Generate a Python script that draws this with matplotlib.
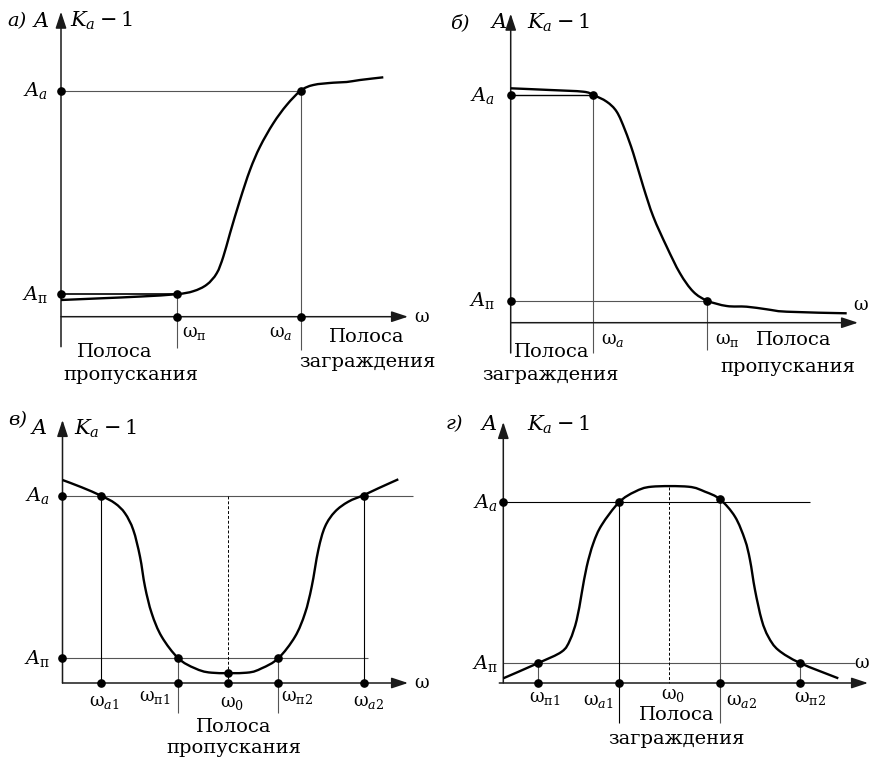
import matplotlib
matplotlib.use('Agg')
import matplotlib.pyplot as plt
from matplotlib.path import Path
from matplotlib.patches import PathPatch

plt.rcParams['font.family'] = ['DejaVu Serif']
plt.rcParams['mathtext.fontset'] = 'custom'
plt.rcParams['mathtext.rm'] = 'DejaVu Serif'
plt.rcParams['mathtext.it'] = 'DejaVu Serif:italic'
plt.rcParams['mathtext.bf'] = 'DejaVu Serif:bold'

# ---------------- data (schematic units) ----------------
# а) high-pass-like attenuation characteristic
a_curve_w = [0, 40, 80, 115.7, 132.3, 145.7, 155.7, 162.3, 169, 179, 189, 199, 212.3,
             225.7, 239.7, 252.3, 272.3, 285.7, 299, 322.3]
a_curve_A = [16.7, 18.4, 20.2, 22.5, 25.5, 32, 43.4, 60, 83.4, 116.7, 146.7, 170, 193.4,
             211.7, 226, 231.7, 234, 234.7, 236.7, 239.4]
a_A_pass, a_A_att = 22.5, 226
a_w_pass, a_w_att = 115.7, 239.7

# б) low-pass-like
b_curve_w = [0, 39.3, 72.6, 82.6, 96, 106, 114.3, 122.6, 132.6, 142.6, 156, 169.3, 182.6,
             196.6, 216, 236, 256, 276, 336]
b_curve_A = [234.4, 232.7, 231, 227.7, 221, 211, 192.7, 169.4, 136, 106, 76, 49.4, 31,
             22, 16.7, 16, 13.4, 11, 9.4]
b_A_pass, b_A_att = 22, 227.7
b_w_att, b_w_pass = 82.6, 196.6

# в) band-pass
c_curve_w = [0, 19.2, 38.5, 52.5, 62.5, 70.8, 77.5, 82.5, 89.2, 99.2, 115.8, 132.5, 149.2,
             184.2, 199.2, 215.8, 232.5, 242.5, 249.2, 255.8, 262.5, 272.5, 285.8, 301.5,
             315.8, 335.8]
c_curve_A = [203, 195.7, 187.3, 179.7, 169.7, 153, 126.3, 96.3, 69.7, 46.3, 24.7, 14.7, 10.3,
             10.3, 14.7, 24.7, 46.3, 69.7, 96.3, 133, 156.3, 171.3, 181.3, 188, 194.7, 203.7]
c_A_pass, c_A_att = 24.7, 187.3
c_w = [38.5, 115.8, 165.5, 215.8, 301.5]   # ωa1, ωп1, ω0, ωп2, ωa2
c_A_min = 10.3

# г) band-stop
d_curve_w = [0, 35, 58.4, 66.7, 73.4, 78.4, 83.4, 90, 98.4, 115.7, 131.7, 148.4, 185,
             201.7, 216.7, 231.7, 241.7, 246.7, 251.7, 258.4, 265, 275, 296.7, 335]
d_curve_A = [4.7, 20, 31.3, 43, 63, 89.7, 116.3, 139.7, 158, 180.7, 191.3, 196.3, 196.3,
             191.3, 183.7, 166.3, 143, 123, 93, 63, 46.3, 33, 20, 4.7]
d_A_pass, d_A_att = 20, 180.7
d_w = [35, 115.7, 165.7, 216.7, 296.7]     # ωп1, ωa1, ω0, ωa2, ωп2
d_A_max = 196.3
d_A_a2 = 183.7

# ---------------- drawing helpers ----------------
W, H = 870, 760
fig = plt.figure(figsize=(8.7, 7.6), dpi=100)

AX_C = '#1a1a1a'
GUIDE_C = '#555555'
CURVE_LW = 1.7
GUIDE_LW = 0.8
FS_TXT = 14
FS_W = 13
FS_A = 14
FS_HEAD = 15


def make_ax(box, origin):
    l, t, r, b = box
    ox, oy = origin
    ax = fig.add_axes([l / W, 1 - b / H, (r - l) / W, (b - t) / H])
    ax.set_xlim(l - ox, r - ox)
    ax.set_ylim(oy - b, oy - t)
    ax.axis('off')
    return ax


def arrow(ax, start, end):
    ax.annotate('', xy=end, xytext=start,
                arrowprops=dict(arrowstyle='-|>,head_length=1.0,head_width=0.33',
                                color=AX_C, lw=1.1, shrinkA=0, shrinkB=0,
                                mutation_scale=10), annotation_clip=False)


def guide(ax, xs, ys, color=GUIDE_C, lw=GUIDE_LW, ls='-'):
    ax.plot(xs, ys, color=color, lw=lw, ls=ls, clip_on=False, solid_capstyle='butt')


def dots(ax, xs, ys):
    ax.plot(xs, ys, 'o', color='black', ms=5.2, clip_on=False, zorder=5)


def curve(ax, xs, ys):
    # smooth drawing through every read point (Catmull-Rom as cubic Bezier segments)
    pts = list(zip(xs, ys))
    n = len(pts)
    verts = [pts[0]]
    codes = [Path.MOVETO]
    for i in range(n - 1):
        p0 = pts[i - 1] if i > 0 else pts[i]
        p1 = pts[i]
        p2 = pts[i + 1]
        p3 = pts[i + 2] if i + 2 < n else pts[i + 1]
        c1 = (p1[0] + (p2[0] - p0[0]) / 6, p1[1] + (p2[1] - p0[1]) / 6)
        c2 = (p2[0] - (p3[0] - p1[0]) / 6, p2[1] - (p3[1] - p1[1]) / 6)
        verts += [c1, c2, p2]
        codes += [Path.CURVE4] * 3
    patch = PathPatch(Path(verts, codes), fill=False, edgecolor='black', lw=CURVE_LW,
                      capstyle='butt', joinstyle='round', zorder=4, clip_on=False)
    ax.add_patch(patch)


def header(ax, letter, xl, xa, xk, y, yk=None):
    if yk is None:
        yk = y
    ax.text(xl, y, letter, fontsize=FS_HEAD - 1, fontstyle='italic', ha='left', va='center')
    ax.text(xa, yk, '$A$', fontsize=FS_HEAD, ha='left', va='center')
    ax.text(xk, yk, r'$K_a - 1$', fontsize=FS_HEAD, ha='left', va='center')


def wl(ax, x, y, sub, ha='center'):
    ax.text(x, y, r'$\mathrm{ω}_{%s}$' % sub, fontsize=FS_W, ha=ha, va='center')


def al(ax, x, y, sub):
    ax.text(x, y, r'$A_{%s}$' % sub, fontsize=FS_A, ha='right', va='center')


def txt(ax, x, y, s):
    ax.text(x, y, s, fontsize=FS_TXT, ha='center', va='center')


# ---------------- panel а ----------------
ax = make_ax((0, 0, 435, 380), (61, 316.7))
arrow(ax, (0, -30), (0, 305))
arrow(ax, (0, 0), (347, 0))
guide(ax, [0, a_w_att], [a_A_att, a_A_att])
guide(ax, [0, a_w_pass], [a_A_pass, a_A_pass], color='black', lw=1.2)
guide(ax, [a_w_pass, a_w_pass], [a_A_pass, -31])
guide(ax, [a_w_att, a_w_att], [a_A_att, -33])
curve(ax, a_curve_w, a_curve_A)
dots(ax, [0, 0, a_w_pass, a_w_pass, a_w_att, a_w_att],
     [a_A_att, a_A_pass, a_A_pass, 0, a_A_att, 0])
header(ax, 'а)', -54, -29, 9, 295.5)
al(ax, -13, a_A_att, 'a')
al(ax, -13, a_A_pass, r'\mathrm{п}')
wl(ax, a_w_pass + 5, -16.5, r'\mathrm{п}', ha='left')
wl(ax, a_w_att - 8, -16.5, 'a', ha='right')
ax.text(361, 0, r'$\mathrm{ω}$', fontsize=FS_W, ha='center', va='center')
txt(ax, 54, -35, 'Полоса')
txt(ax, 70, -58, 'пропускания')
txt(ax, 306, -20, 'Полоса')
txt(ax, 306, -45, 'заграждения')

# ---------------- panel б ----------------
ax = make_ax((435, 0, 870, 380), (510.7, 322.7))
arrow(ax, (0, -30.3), (0, 309))
arrow(ax, (0, 0), (347.3, 0))
guide(ax, [0, b_w_att], [b_A_att, b_A_att], color='black', lw=1.0)
guide(ax, [0, b_w_pass], [b_A_pass, b_A_pass])
guide(ax, [b_w_att, b_w_att], [b_A_att, -30.3])
guide(ax, [b_w_pass, b_w_pass], [b_A_pass, -27.3])
curve(ax, b_curve_w, b_curve_A)
dots(ax, [0, 0, b_w_att, b_w_pass], [b_A_att, b_A_pass, b_A_att, b_A_pass])
header(ax, 'б)', -60.5, -21, 16, 300)
al(ax, -15.5, b_A_att, 'a')
al(ax, -15.5, b_A_pass, r'\mathrm{п}')
wl(ax, b_w_att + 8, -17, 'a', ha='left')
wl(ax, b_w_pass + 8, -17, r'\mathrm{п}', ha='left')
ax.text(350.5, 17.5, r'$\mathrm{ω}$', fontsize=FS_W, ha='center', va='center')
txt(ax, 283, -17, 'Полоса')
txt(ax, 277, -44, 'пропускания')
txt(ax, 41, -29, 'Полоса')
txt(ax, 40, -52, 'заграждения')

# ---------------- panel в ----------------
ax = make_ax((0, 380, 435, 760), (62.5, 683))
arrow(ax, (0, 0), (0, 263))
arrow(ax, (0, 0), (345.5, 0))
wa1, wp1, w0, wp2, wa2 = c_w
guide(ax, [0, 350.5], [c_A_att, c_A_att])
guide(ax, [0, 305.5], [c_A_pass, c_A_pass])
guide(ax, [wa1, wa1], [c_A_att, 0], color='black')
guide(ax, [wa2, wa2], [c_A_att, 0], color='black')
guide(ax, [wp1, wp1], [c_A_pass, -30])
guide(ax, [wp2, wp2], [c_A_pass, -30])
guide(ax, [w0, w0], [c_A_att, 0], color='black', lw=0.7, ls=(0, (3, 2)))
curve(ax, c_curve_w, c_curve_A)
dots(ax, [0, 0, wa1, wa1, wp1, wp1, w0, w0, wp2, wp2, wa2, wa2],
     [c_A_att, c_A_pass, c_A_att, 0, c_A_pass, 0, c_A_min, 0, c_A_pass, 0, c_A_att, 0])
header(ax, 'в)', -54.5, -32, 12, 263, yk=254)
al(ax, -12.5, c_A_att, 'a')
al(ax, -12.5, c_A_pass, r'\mathrm{п}')
wl(ax, wa1 + 3, -19, 'a1')
wl(ax, wp1 - 8, -14, r'\mathrm{п1}', ha='right')
wl(ax, w0 + 4, -20, '0')
wl(ax, wp2 + 3, -14, r'\mathrm{п2}', ha='left')
wl(ax, wa2 + 5, -19, 'a2')
ax.text(359, 0, r'$\mathrm{ω}$', fontsize=FS_W, ha='center', va='center')
txt(ax, 171, -44, 'Полоса')
txt(ax, 171, -65, 'пропускания')

# ---------------- panel г ----------------
ax = make_ax((435, 380, 870, 760), (503.3, 683))
arrow(ax, (0, 0), (0, 261))
arrow(ax, (-4, 0), (364.7, 0))
wp1, wa1, w0, wa2, wp2 = d_w
guide(ax, [0, 306.7], [d_A_att, d_A_att], color='black')
guide(ax, [0, 351.7], [d_A_pass, d_A_pass])
guide(ax, [wp1, wp1], [d_A_pass, 0])
guide(ax, [wp2, wp2], [d_A_pass, 0])
guide(ax, [wa1, wa1], [d_A_att, -40], color='black')
guide(ax, [wa2, wa2], [d_A_a2, -40])
guide(ax, [w0, w0], [d_A_max, 0], color='black', lw=0.7, ls=(0, (3, 2)))
curve(ax, d_curve_w, d_curve_A)
dots(ax, [0, wp1, wp1, wa1, wa1, wa2, wa2, wp2, wp2],
     [d_A_att, d_A_pass, 0, d_A_att, 0, d_A_a2, 0, d_A_pass, 0])
header(ax, 'г)', -58, -23, 23.5, 258.5)
al(ax, -5.5, d_A_att, 'a')
al(ax, -5.5, d_A_pass, r'\mathrm{п}')
wl(ax, wp1 + 6, -15, r'\mathrm{п1}')
wl(ax, wa1 - 5, -18, 'a1', ha='right')
wl(ax, w0 + 4, -11.5, '0')
wl(ax, wa2 + 6, -18, 'a2', ha='left')
wl(ax, wp2 + 10, -15, r'\mathrm{п2}')
ax.text(358.5, d_A_pass, r'$\mathrm{ω}$', fontsize=FS_W, ha='center', va='center')
txt(ax, 173, -32, 'Полоса')
txt(ax, 173, -56, 'заграждения')

fig.savefig('out.png', dpi=100, facecolor='white')
